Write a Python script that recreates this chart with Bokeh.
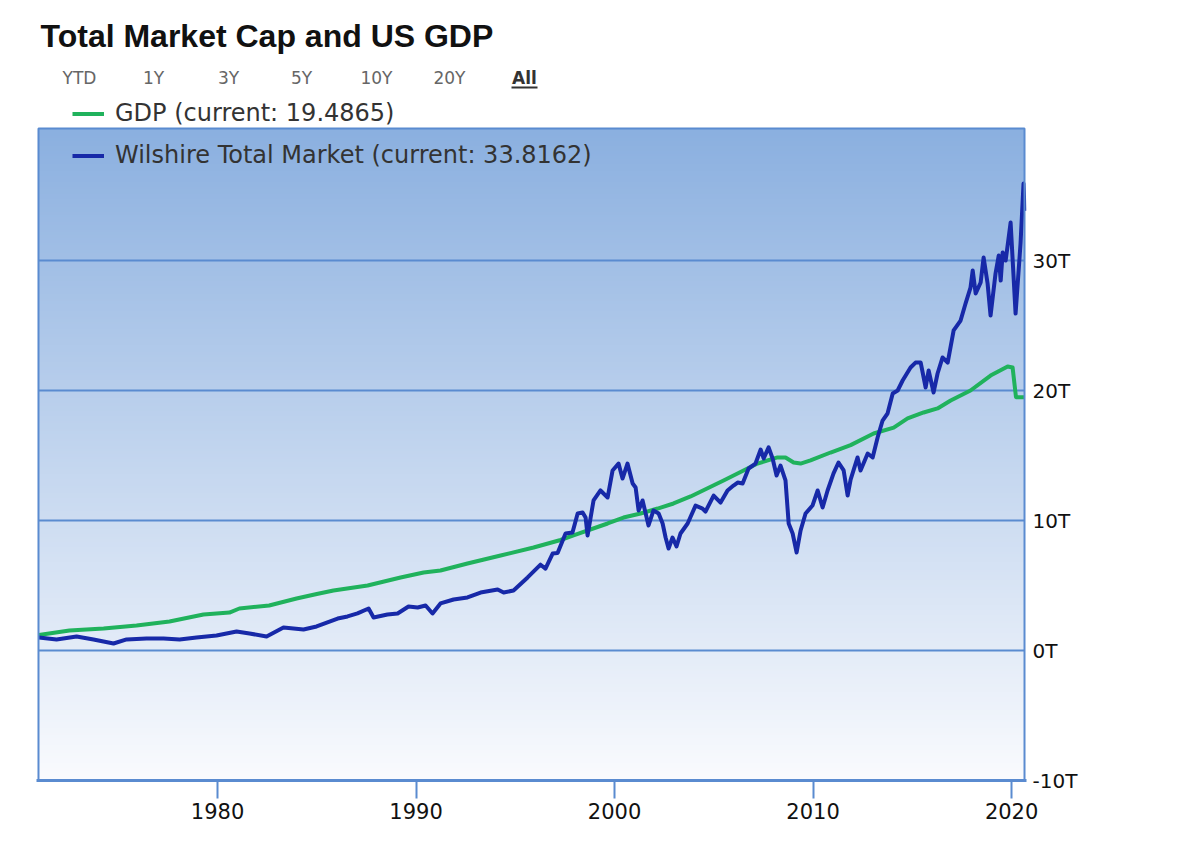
import numpy as np
from bokeh.plotting import figure
from bokeh.models import (Range1d, FixedTicker, PrintfTickFormatter, Label, Legend,
                          LegendItem, BoxAnnotation)
from bokeh.embed import file_html
from bokeh.resources import INLINE

# ---------------- data ----------------
title_text = "Total Market Cap and US GDP"
range_labels = ["YTD", "1Y", "3Y", "5Y", "10Y", "20Y", "All"]

x_ticks = [1980, 1990, 2000, 2010, 2020]
y_ticks = [-10, 0, 10, 20, 30]

gdp_year = [1971.0, 1972.54, 1974.26, 1975.92, 1977.58, 1979.29, 1980.6, 1981.1, 1982.6,
            1983.98, 1985.0, 1985.84, 1987.56, 1989.22, 1990.38, 1991.23, 1992.59, 1994.26,
            1995.92, 1997.28, 1997.93, 1999.65, 2000.45, 2001.31, 2002.17, 2002.97, 2003.83,
            2005.49, 2007.2, 2008.21, 2008.61, 2009.02, 2009.37, 2009.87, 2010.88, 2011.89,
            2013.05, 2014.06, 2014.76, 2015.57, 2016.27, 2016.93, 2017.93, 2018.94, 2019.8,
            2020.05, 2020.22, 2020.65]
gdp_val = [1.2, 1.54, 1.69, 1.92, 2.23, 2.77, 2.92, 3.23, 3.46,
           4.0, 4.35, 4.62, 5.0, 5.62, 6.0, 6.15, 6.69, 7.31,
           7.92, 8.5, 8.85, 9.77, 10.23, 10.54, 10.92, 11.31, 11.85,
           13.08, 14.38, 14.85, 14.85, 14.46, 14.38, 14.62, 15.23, 15.8,
           16.69, 17.15, 17.85, 18.31, 18.62, 19.23, 20.0, 21.15, 21.85,
           21.77, 19.49, 19.4865]

wil_year = [1971.0, 1971.89, 1972.90, 1973.75, 1974.76, 1975.42, 1976.42, 1977.28, 1978.09,
            1978.94, 1979.95, 1980.96, 1981.61, 1982.47, 1983.32, 1984.33, 1984.99, 1986.05,
            1986.55, 1987.05, 1987.61, 1987.86, 1988.56, 1989.07, 1989.62, 1990.08, 1990.48,
            1990.83, 1991.23, 1991.89, 1992.59, 1993.25, 1994.11, 1994.41, 1994.91, 1995.62,
            1996.27, 1996.52, 1996.88, 1997.13, 1997.53, 1997.88, 1998.14, 1998.39, 1998.54,
            1998.64, 1998.94, 1999.29, 1999.65, 1999.90, 2000.20, 2000.40, 2000.65, 2000.91,
            2001.06, 2001.21, 2001.41, 2001.71, 2001.96, 2002.22, 2002.42, 2002.57, 2002.72,
            2002.92, 2003.12, 2003.32, 2003.68, 2004.08, 2004.43, 2004.58, 2004.99, 2005.34,
            2005.69, 2005.99, 2006.20, 2006.45, 2006.75, 2007.10, 2007.36, 2007.51, 2007.76,
            2007.96, 2008.16, 2008.36, 2008.61, 2008.77, 2008.97, 2009.17, 2009.37, 2009.62,
            2009.97, 2010.23, 2010.48, 2010.73, 2011.03, 2011.28, 2011.54, 2011.74, 2011.89,
            2012.24, 2012.39, 2012.75, 2013.00, 2013.25, 2013.50, 2013.75, 2014.01, 2014.26,
            2014.51, 2014.91, 2015.16, 2015.42, 2015.67, 2015.82, 2016.07, 2016.27, 2016.52,
            2016.78, 2017.08, 2017.43, 2017.68, 2017.93, 2018.04, 2018.19, 2018.44, 2018.59,
            2018.79, 2018.94, 2019.19, 2019.35, 2019.45, 2019.55, 2019.70, 2019.95, 2020.20,
            2020.45, 2020.60, 2020.65]
wil_val = [1.0, 0.85, 1.08, 0.85, 0.54, 0.85, 0.92, 0.92, 0.85,
           1.0, 1.15, 1.46, 1.31, 1.08, 1.77, 1.62, 1.85, 2.46,
           2.62, 2.85, 3.23, 2.54, 2.77, 2.85, 3.38, 3.31, 3.46,
           2.85, 3.62, 3.92, 4.08, 4.46, 4.69, 4.46, 4.62, 5.62,
           6.6, 6.3, 7.46, 7.5, 9.0, 9.08, 10.54, 10.62, 10.23,
           8.85, 11.54, 12.31, 11.77, 13.85, 14.38, 13.23, 14.38, 12.85,
           12.54, 10.77, 11.54, 9.62, 10.77, 10.54, 9.77, 8.69, 7.85,
           8.69, 8.0, 9.0, 9.77, 11.15, 10.92, 10.69, 11.92, 11.38,
           12.31, 12.69, 12.92, 12.85, 14.0, 14.38, 15.46, 14.77, 15.62,
           14.77, 13.46, 14.23, 13.08, 9.77, 9.0, 7.54, 9.23, 10.54,
           11.15, 12.31, 11.0, 12.31, 13.62, 14.46, 13.85, 11.92, 13.15,
           14.85, 13.85, 15.15, 14.85, 16.38, 17.69, 18.23, 19.77, 20.0,
           20.77, 21.77, 22.15, 22.15, 20.23, 21.54, 19.85, 21.31, 22.54,
           22.15, 24.62, 25.38, 26.69, 27.92, 29.23, 27.46, 28.31, 30.23,
           28.23, 25.77, 29.0, 30.38, 28.46, 30.62, 30.0, 32.92, 25.92,
           31.31, 35.92, 33.8162]

# ---------------- styling ----------------
BLUE_LINE = "#1729a8"
GREEN_LINE = "#20b25c"
FRAME_BLUE = "#5a8bd0"
# visible plot box (data units)
X0, X1 = 1970.98, 2020.65
Y0, Y1 = -10.0, 40.15
PAD = 0.1  # small pad so the box border is not clipped

p = figure(width=1184, height=842, output_backend="svg", toolbar_location=None, title=None,
           x_range=Range1d(X0 - PAD, X1 + PAD), y_range=Range1d(-10.0, 50.0),
           y_axis_location="right",
           min_border_left=36, min_border_right=158, min_border_top=0, min_border_bottom=62,
           background_fill_color="white", border_fill_color="white")
p.outline_line_color = None

# vertical gradient background for the plot box
n = 256
t = np.linspace(0.0, 1.0, n)
top = np.array([139, 176, 224], dtype=float)
bot = np.array([250, 251, 254], dtype=float)
cols = bot[None, :] * (1 - t[:, None]) + top[None, :] * t[:, None]
img = np.zeros((n, 1), dtype=np.uint32)
view = img.view(dtype=np.uint8).reshape((n, 1, 4))
view[:, 0, 0] = cols[:, 0].astype(np.uint8)
view[:, 0, 1] = cols[:, 1].astype(np.uint8)
view[:, 0, 2] = cols[:, 2].astype(np.uint8)
view[:, 0, 3] = 255
p.image_rgba(image=[img], x=X0, y=Y0, dw=X1 - X0, dh=Y1 - Y0, level="image")

# horizontal grid lines inside the box
p.xgrid.visible = False
p.ygrid.visible = False
p.segment(x0=[X0] * len(y_ticks), x1=[X1] * len(y_ticks), y0=y_ticks, y1=y_ticks,
          line_color=FRAME_BLUE, line_width=2, level="underlay")

r_gdp = p.line(gdp_year, gdp_val, line_color=GREEN_LINE, line_width=4, line_join="round")
r_wil = p.line(wil_year, wil_val, line_color=BLUE_LINE, line_width=4, line_join="round")

# box border
p.add_layout(BoxAnnotation(left=X0, right=X1, bottom=Y0, top=Y1, fill_alpha=0,
                           line_color=FRAME_BLUE, line_width=2, line_alpha=1))

xa = p.xaxis[0]
xa.ticker = FixedTicker(ticks=x_ticks)
xa.formatter = PrintfTickFormatter(format="%d")
xa.axis_line_color = FRAME_BLUE
xa.axis_line_width = 3
xa.major_tick_line_color = FRAME_BLUE
xa.major_tick_line_width = 2
xa.major_tick_out = 18
xa.major_tick_in = 0
xa.minor_tick_line_color = None
xa.major_label_standoff = 4
xa.major_label_text_font = "DejaVu Sans"
xa.major_label_text_font_size = "21px"
xa.major_label_text_color = "#111111"

ya = p.yaxis[0]
ya.ticker = FixedTicker(ticks=y_ticks)
ya.formatter = PrintfTickFormatter(format="%dT")
ya.axis_line_color = None
ya.major_tick_line_color = None
ya.minor_tick_line_color = None
ya.major_label_standoff = 0
ya.major_label_text_font = "DejaVu Sans"
ya.major_label_text_font_size = "20px"
ya.major_label_text_color = "#111111"

# frame spans the figure from top (y=0) to y=780, left edge at x=36
legend = Legend(
    items=[LegendItem(label=f"GDP (current: {gdp_val[-1]:.4f})", renderers=[r_gdp]),
           LegendItem(label=f"Wilshire Total Market (current: {wil_val[-1]:.4f})", renderers=[r_wil])],
    location=(36, 611), orientation="vertical", padding=0, margin=0, spacing=14,
    glyph_width=32, glyph_height=25, label_height=25, label_standoff=11,
    label_text_font="DejaVu Sans", label_text_font_size="24px", label_text_color="#333333",
    background_fill_alpha=0, border_line_alpha=0)
p.add_layout(legend)

# title
p.add_layout(Label(x=4, y=745, x_units="screen", y_units="screen", text=title_text,
                   text_font="Liberation Sans", text_font_style="bold", text_font_size="32px",
                   text_color="#111111", text_baseline="alphabetic", text_align="left"))

# range selector
centers = [43, 117, 192, 265, 340, 413, 488]
for lab, cx in zip(range_labels, centers):
    is_all = lab == "All"
    p.add_layout(Label(x=cx, y=703, x_units="screen", y_units="screen", text=lab,
                       text_font="DejaVu Sans", text_font_size="17px",
                       text_font_style="bold" if is_all else "normal",
                       text_color="#333333" if is_all else "#666666",
                       text_align="center", text_baseline="middle"))
p.add_layout(BoxAnnotation(left=475, right=501, bottom=692, top=694,
                           left_units="screen", right_units="screen",
                           top_units="screen", bottom_units="screen",
                           fill_color="#333333", fill_alpha=1, line_alpha=0))

open("out.html", "w").write(file_html(p, INLINE))
